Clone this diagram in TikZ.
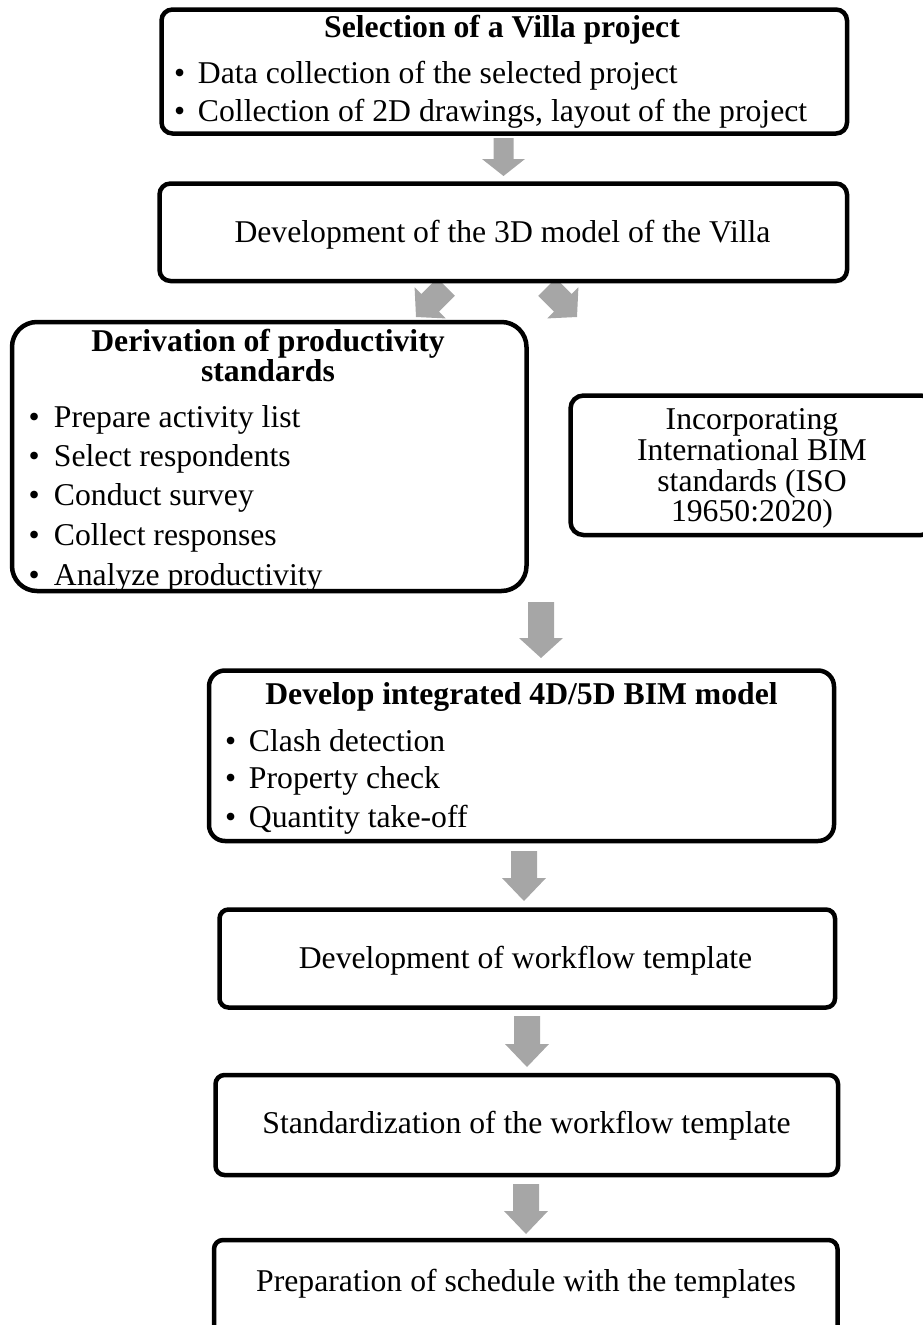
\documentclass[tikz,border=0pt]{standalone}
\usepackage{fontspec}
\setmainfont{Liberation Serif}
\usetikzlibrary{calc}
\definecolor{arrowgrey}{RGB}{166,166,166}

\tikzset{
  flowbox/.style={draw=black, line width=4.5pt, fill=white, rounded corners=#1,
                  inner sep=0pt, outer sep=0pt},
  flowbox/.default=10pt,
  txt/.style={inner sep=0pt, outer sep=0pt, anchor=base,
              font=\fontsize{31.7}{38}\selectfont},
  title/.style={txt, font=\fontsize{31.7}{38}\selectfont\bfseries},
  bul/.style={txt, anchor=base west},
}

% bullet line: bullet in a box of width #1, then the text
\newcommand\bl[2]{\makebox[#1][l]{\textbullet}#2}

% grey block arrow from tail #1 to tip #2;
% #3 half shaft width, #4 half head width, #5 head length
\newcommand\blockarrow[5]{%
  \coordinate (bah) at ($(#2)!#5!(#1)$);
  \fill[arrowgrey] ($(#1)!#3!90:(#2)$) -- ($(bah)!#3!90:(#2)$)
    -- ($(bah)!#4!90:(#2)$) -- (#2) -- ($(bah)!#4!-90:(#2)$)
    -- ($(bah)!#3!-90:(#2)$) -- ($(#1)!#3!-90:(#2)$) -- cycle;
}

\begin{document}
\begin{tikzpicture}[x=1pt, y=1pt]
\useasboundingbox (0,0) rectangle (923,-1325);

% ---------- arrows (drawn first, boxes sit on top) ----------
\coordinate (a1s) at (503.5,-138);  \coordinate (a1e) at (503.5,-176);
\coordinate (a2s) at (446,-287);    \coordinate (a2e) at (416,-317);
\coordinate (a3s) at (547,-287);    \coordinate (a3e) at (577,-317);
\coordinate (a4s) at (541,-602);    \coordinate (a4e) at (541,-658);
\coordinate (a5s) at (524,-851);    \coordinate (a5e) at (524,-901);
\coordinate (a6s) at (527,-1016);   \coordinate (a6e) at (527,-1067);
\coordinate (a7s) at (526,-1184);   \coordinate (a7e) at (526,-1234);

\blockarrow{a1s}{a1e}{10pt}{21.5pt}{17pt}
\blockarrow{a2s}{a2e}{12.5pt}{22pt}{20pt}
\blockarrow{a3s}{a3e}{12.5pt}{22pt}{20pt}
\blockarrow{a4s}{a4e}{13pt}{22pt}{20pt}
\blockarrow{a5s}{a5e}{13pt}{22pt}{23pt}
\blockarrow{a6s}{a6e}{13pt}{22pt}{23pt}
\blockarrow{a7s}{a7e}{13pt}{22pt}{23pt}

% ---------- boxes ----------
\node[flowbox=11pt, minimum width=685.5pt, minimum height=124pt]   (sel)   at (504.25,-71.5) {};
\node[flowbox=11pt, minimum width=687.5pt, minimum height=97.5pt]  (model) at (503.25,-232.25) {};
\node[flowbox=25pt, minimum width=514.5pt, minimum height=269pt]   (deriv) at (269.25,-456.5) {};
\node[flowbox=13pt, minimum width=363.5pt, minimum height=139.5pt] (iso)   at (752.25,-465.25) {};
\node[flowbox=16pt, minimum width=625pt,   minimum height=170.5pt] (bim)   at (521.5,-755.75) {};
\node[flowbox=9pt,  minimum width=615.5pt, minimum height=98pt]    (wf)    at (527.25,-958.5) {};
\node[flowbox=9pt,  minimum width=622.5pt, minimum height=100pt]   (std)   at (526.75,-1125) {};
\node[flowbox=9pt,  minimum width=623.5pt, minimum height=100pt]   (sched) at (525.75,-1290) {};

% ---------- texts ----------
\node[title] (sel-t)  at (502,-37.5) {Selection of a Villa project};
\node[bul]   (sel-1)  at (174,-83)    {\bl{24pt}{Data collection of the selected project}};
\node[bul]   (sel-2)  at (174,-121.5) {\bl{24pt}{Collection of 2D drawings, layout of the project}};

\node[txt]   (model-t) at (502.5,-242) {Development of the 3D model of the Villa};

\node[title] (deriv-t1) at (268,-351) {Derivation of productivity};
\node[title] (deriv-t2) at (268,-381) {standards};
\node[bul]   (deriv-1)  at (28.5,-427) {\bl{25.5pt}{Prepare activity list}};
\node[bul]   (deriv-2)  at (28.5,-466) {\bl{25.5pt}{Select respondents}};
\node[bul]   (deriv-3)  at (28.5,-505) {\bl{25.5pt}{Conduct survey}};
\node[bul]   (deriv-4)  at (28.5,-545) {\bl{25.5pt}{Collect responses}};
\node[bul]   (deriv-5)  at (28.5,-585) {\bl{25.5pt}{Analyze productivity}};

\node[txt]   (iso-1) at (752,-429)   {Incorporating};
\node[txt]   (iso-2) at (752,-460.5) {International BIM};
\node[txt]   (iso-3) at (752,-491.5) {standards (ISO};
\node[txt]   (iso-4) at (752,-521.5) {19650:2020)};

\node[title] (bim-t) at (521.5,-704) {Develop integrated 4D/5D BIM model};
\node[bul]   (bim-1) at (225.2,-751) {\bl{23.8pt}{Clash detection}};
\node[bul]   (bim-2) at (225.2,-788) {\bl{23.8pt}{Property check}};
\node[bul]   (bim-3) at (225.2,-827) {\bl{23.8pt}{Quantity take-off}};

\node[txt] (wf-t)    at (525.5,-968)  {Development of workflow template};
\node[txt] (std-t)   at (526.5,-1133) {Standardization of the workflow template};
\node[txt] (sched-t) at (526,-1291)   {Preparation of schedule with the templates};
\end{tikzpicture}
\end{document}
